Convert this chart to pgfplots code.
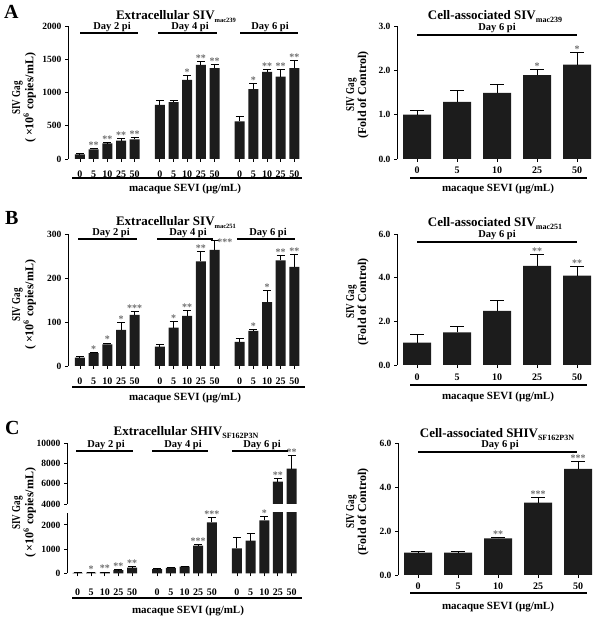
\documentclass[border=0pt]{standalone}
\usepackage{fontspec}
\setmainfont{Liberation Serif}
\usepackage{pgfplots}
\pgfplotsset{compat=1.18}
\usepackage{pgfplotstable}
\usepackage{graphicx}

\definecolor{barc}{HTML}{1C1C1C}
\definecolor{starc}{HTML}{6E6E6E}
\newcommand\fs[1]{\fontsize{#1}{#1}\selectfont}
\newcommand\sub[2][8]{\raisebox{-3pt}{\fs{#1}#2}}

\pgfplotsset{
  base/.style={
    scale only axis, anchor=south west,
    axis x line*=bottom, axis y line*=left,
    x axis line style={draw=none},
    y axis line style={line width=1pt},
    tick align=outside, major tick length=3pt,
    major tick style={line width=0.9pt, black},
    ymin=0, scaled y ticks=false,
    /pgf/number format/assume math mode=true,
    /pgf/number format/1000 sep={},
    yticklabel style={font=\bfseries\fs{9.5}},
    xticklabel style={font=\bfseries\fs{10}, anchor=base},
    clip=false,
  },
  barplot/.style n args={2}{ybar, bar width=#1, bar shift=0pt, fill=barc, draw=none,
    error bars/.cd, y dir=plus, y explicit,
    error bar style={line width=1pt, black},
    error mark options={rotate=90, line width=1pt, black, mark size=#2}},
  stars/.style={only marks, mark=*, mark size=0pt, mark options={draw=none, fill=none},
    nodes near coords, point meta=explicit symbolic,
    every node near coord/.append style={anchor=south, text=starc, font=\bfseries\fs{10}, inner sep=0pt}},
  leftx/.style={xtick=data, xticklabels={0,5,10,25,50,0,5,10,25,50,0,5,10,25,50}},
  rightx/.style={xtick=data, xticklabels={0,5,10,25,50}, xmin=-0.5, xmax=4.5},
}

\pgfplotstableread{
x y e
0 70 8
1 145 15
2 235 7
3 275 30
4 295 30
5.84 815 65
6.84 855 20
7.84 1190 60
8.84 1415 50
9.84 1365 55
11.68 565 80
12.68 1050 85
13.68 1310 40
14.68 1240 110
15.68 1365 115
}\ALd
\pgfplotstableread{
x y e
0 1.00 0.10
1 1.29 0.26
2 1.49 0.20
3 1.89 0.12
4 2.13 0.27
}\ARd
\pgfplotstableread{
x y e
0 19 2
1 29 2
2 49 3
3 82 17
4 116 8
5.84 44 5
6.84 87 14
7.84 114 11
8.84 238 22
9.84 264 21
11.68 55 8
12.68 80 2
13.68 145 26
14.68 240 11
15.68 225 28
}\BLd
\pgfplotstableread{
x y e
0 1.03 0.35
1 1.49 0.28
2 2.48 0.46
3 4.54 0.53
4 4.09 0.40
}\BRd
\pgfplotstableread{
x y e
0 15 5
1 30 5
2 45 8
3 130 15
4 234 30
5.84 175 15
6.84 225 15
7.84 280 15
8.84 1140 50
9.84 2100 200
11.68 1035 440
12.68 1350 290
13.68 2190 140
14.68 6200 300
15.68 7500 1250
}\CLd
\pgfplotstableread{
x y e
0 1.02 0.04
1 1.02 0.04
2 1.67 0.05
3 3.30 0.23
4 4.83 0.34
}\CRd

\begin{document}
\begin{tikzpicture}
\useasboundingbox (0,0) rectangle (602pt,618pt);

% ---------- A left
\begin{axis}[base, leftx, at={(68pt,459pt)}, width=239pt, height=133pt,
  xmin=-0.876, xmax=16.6, ymax=2000, ytick={0,500,1000,1500,2000},
  xticklabel style={yshift=-16pt}]
\addplot[barplot={10pt}{4pt}] table[x=x,y=y,y error=e]{\ALd};
\addplot[stars] coordinates {(1,160)[**] (2,242)[**] (3,305)[**] (4,325)[**]
  (7.84,1250)[*] (8.84,1465)[**] (9.84,1420)[**]
  (12.68,1135)[*] (13.68,1350)[**] (14.68,1350)[**] (15.68,1480)[**]};
\end{axis}

% ---------- A right
\begin{axis}[base, rightx, at={(397pt,459pt)}, width=200pt, height=133pt,
  ymax=3, ytick={0,1,2,3}, yticklabels={0.0,1.0,2.0,3.0},
  xticklabel style={yshift=-12pt}]
\addplot[barplot={28pt}{7pt}] table[x=x,y=y,y error=e]{\ARd};
\addplot[stars] coordinates {(3,2.01)[*] (4,2.40)[*]};
\end{axis}

% ---------- B left
\begin{axis}[base, leftx, at={(68pt,252pt)}, width=239pt, height=132pt,
  xmin=-0.876, xmax=16.6, ymax=300, ytick={0,100,200,300},
  xticklabel style={yshift=-16pt}]
\addplot[barplot={10pt}{4pt}] table[x=x,y=y,y error=e]{\BLd};
\addplot[stars] coordinates {(1,31)[*] (2,52)[*] (3,99)[*] (4,124)[***]
  (6.84,101)[*] (7.84,125)[**] (8.84,260)[**] (10.6,274)[***]
  (12.68,82)[*] (13.68,171)[*] (14.68,251)[**] (15.68,253)[**]};
\end{axis}

% ---------- B right
\begin{axis}[base, rightx, at={(397pt,253pt)}, width=200pt, height=131pt,
  ymax=6, ytick={0,2,4,6}, yticklabels={0.0,2.0,4.0,6.0},
  xticklabel style={yshift=-13pt}]
\addplot[barplot={28pt}{7pt}] table[x=x,y=y,y error=e]{\BRd};
\addplot[stars] coordinates {(3,5.07)[**] (4,4.49)[**]};
\end{axis}

% ---------- C left (lower part)
\begin{axis}[base, leftx, at={(67pt,44.7pt)}, width=237pt, height=60.5pt,
  xmin=-0.77, xmax=16.59, ymax=2500, ytick={0,1000,2000}, clip=true,
  xticklabel style={yshift=-19pt}]
\addplot[barplot={10pt}{4pt}] table[x=x,y=y,y error=e]{\CLd};
\addplot[stars] coordinates {(1,35)[*] (2,53)[**] (3,145)[**] (4,264)[**]
  (8.84,1190)[***] (9.84,2300)[***] (13.68,2330)[*]};
\end{axis}
% ---------- C left (upper part)
\begin{axis}[base, at={(67pt,114pt)}, width=237pt, height=60.7pt,
  xmin=-0.77, xmax=16.59, ymin=4000, ymax=10000, ytick={4000,6000,8000,10000},
  xtick=\empty, clip=true]
\addplot[restrict y to domain=4000:100000, barplot={10pt}{4pt}] table[x=x,y=y,y error=e]{\CLd};
\addplot[stars] coordinates {(14.68,6500)[**] (15.68,8750)[**]};
\end{axis}

% ---------- C right
\begin{axis}[base, rightx, at={(398pt,43pt)}, width=200pt, height=131.7pt,
  ymax=6, ytick={0,2,4,6}, yticklabels={0.0,2.0,4.0,6.0},
  xticklabel style={yshift=-12pt}]
\addplot[barplot={28pt}{7pt}] table[x=x,y=y,y error=e]{\CRd};
\addplot[stars] coordinates {(2,1.72)[**] (3,3.53)[***] (4,5.17)[***]};
\end{axis}

% ---------- annotations (pixel coordinates, y downward)
\begin{scope}[shift={(0pt,618pt)}, x=1pt, y=-1pt,
  let/.style={anchor=base west, font=\bfseries\fs{20}, inner sep=0},
  ttl/.style={anchor=base, font=\bfseries\fs{13}, inner sep=0},
  day/.style={anchor=base, font=\bfseries\fs{10.5}, inner sep=0},
  xl/.style={anchor=base, font=\bfseries\fs{11}, inner sep=0},
  yl/.style={rotate=90, align=center, font=\bfseries\fs{12}, inner sep=0},
  dl/.style={line width=2pt},
  ul/.style={line width=1.6pt}]
% A
\node[let] at (4,19) {A};
\node[ttl] at (176,20) {Extracellular SIV\sub[6.5]{mac239}};
\node[day] at (112,30) {Day 2 pi};
\node[day] at (190,30) {Day 4 pi};
\node[day] at (270,30) {Day 6 pi};
\draw[dl] (80,33)--(138,33) (158,33)--(217,33) (240,33)--(298,33);
\draw[ul] (72,178)--(302,178);
\node[xl] at (185,192) {macaque SEVI (μg/mL)};
\node[yl] at (24,98) {\scalebox{0.75}[1]{SIV Gag}\\( ×10\textsuperscript{6} copies/mL)};
\node[ttl] at (495,20) {Cell-associated SIV\sub{mac239}};
\node[day] at (497,31) {Day 6 pi};
\draw[dl] (417,35)--(577,35);
\draw[ul] (410,178)--(587,178);
\node[xl] at (498,192) {macaque SEVI (μg/mL)};
\node[yl] at (357.5,95) {\scalebox{0.75}[1]{SIV Gag}\\(Fold of Control)};
% B
\node[let] at (5,225) {B};
\node[ttl] at (176,226) {Extracellular SIV\sub[6.5]{mac251}};
\node[day] at (111,236) {Day 2 pi};
\node[day] at (188,236) {Day 4 pi};
\node[day] at (268,236) {Day 6 pi};
\draw[dl] (78,239)--(137,239) (157,239)--(213,239) (237,239)--(295,239);
\draw[ul] (72,387)--(305,387);
\node[xl] at (185,401) {macaque SEVI (μg/mL)};
\node[yl] at (24,305) {\scalebox{0.75}[1]{SIV Gag}\\( ×10\textsuperscript{6} copies/mL)};
\node[ttl] at (495,227) {Cell-associated SIV\sub{mac251}};
\node[day] at (497,238) {Day 6 pi};
\draw[dl] (417,242)--(577,242);
\draw[ul] (410,385)--(587,385);
\node[xl] at (498,400) {macaque SEVI (μg/mL)};
\node[yl] at (357.5,302) {\scalebox{0.75}[1]{SIV Gag}\\(Fold of Control)};
% C
\node[let] at (5,435) {C};
\node[ttl] at (186,436) {Extracellular SHIV\sub{SF162P3N}};
\node[day] at (106,448) {Day 2 pi};
\node[day] at (183,448) {Day 4 pi};
\node[day] at (262,448) {Day 6 pi};
\draw[dl] (76,451)--(133,451) (152,451)--(208,451) (232,451)--(288,451);
\draw[ul] (72,598)--(302,598);
\node[xl] at (188,613) {macaque SEVI (μg/mL)};
\node[yl] at (24,513) {\scalebox{0.75}[1]{SIV Gag}\\( ×10\textsuperscript{6} copies/mL)};
\node[ttl] at (497,438) {Cell-associated SHIV\sub{SF162P3N}};
\node[day] at (500,448) {Day 6 pi};
\draw[dl] (418,452)--(577,452);
\draw[ul] (410,593)--(587,593);
\node[xl] at (498,609) {macaque SEVI (μg/mL)};
\node[yl] at (357.5,512) {\scalebox{0.75}[1]{SIV Gag}\\(Fold of Control)};
\end{scope}
\end{tikzpicture}
\end{document}
